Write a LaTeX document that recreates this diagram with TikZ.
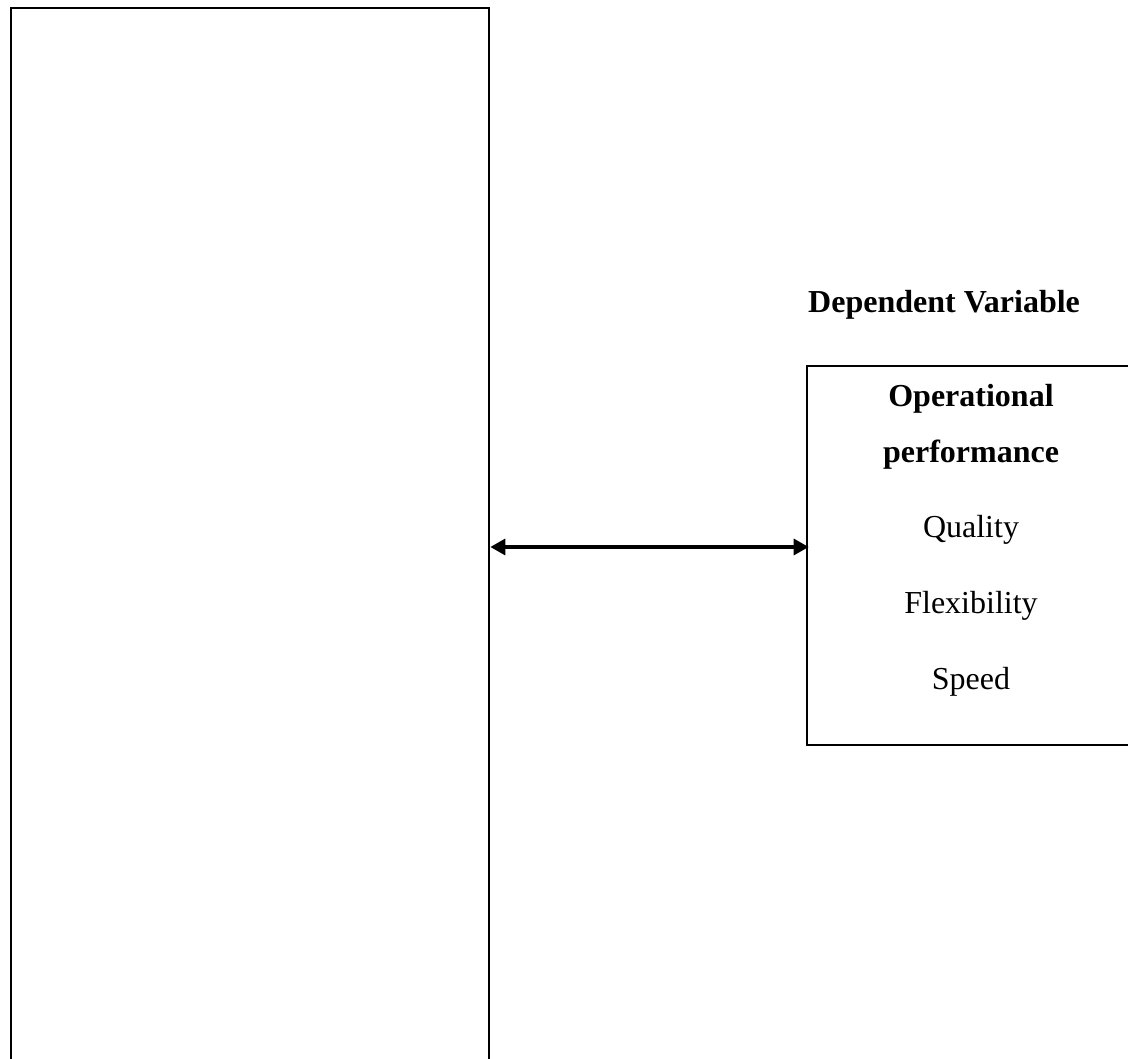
\documentclass[tikz,border=0pt]{standalone}
\usepackage{fontspec}
\setmainfont{Liberation Serif}
\usetikzlibrary{arrows.meta}
\begin{document}
\begin{tikzpicture}[x=1pt,y=1pt,
  boxline/.style={draw=black,line width=2.6pt,inner sep=0pt},
  txt/.style={inner sep=0pt,anchor=base,font=\fontsize{32}{36}\selectfont},
  btxt/.style={txt,font=\fontsize{32}{36}\selectfont\bfseries},
  arr/.style={line width=3.2pt,{Triangle[length=15pt,width=16pt]}-{Triangle[length=15pt,width=16pt]}}]
\clip (0,0) rectangle (1128,1059);
\fill[white] (0,0) rectangle (1128,1059);
% left (empty) box
\node[boxline,minimum width=478pt,minimum height=1071pt] (iv) at (250,515.5) {};
% dependent variable box
\node[boxline,minimum width=328pt,minimum height=379pt] (dv) at (971,503.5) {};
\node[btxt,anchor=base west] (dvlabel) at (808,746) {Dependent Variable};
\node[btxt] (op1) at (971,652) {Operational};
\node[btxt] (op2) at (971,596) {performance};
\node[txt] (q) at (971,521) {Quality};
\node[txt] (f) at (971,445) {Flexibility};
\node[txt] (s) at (971,369) {Speed};
\coordinate (ay) at (0,512);
\draw[arr,shorten >=-3pt] (iv.east |- ay) -- (dv.west |- ay);
\end{tikzpicture}
\end{document}
